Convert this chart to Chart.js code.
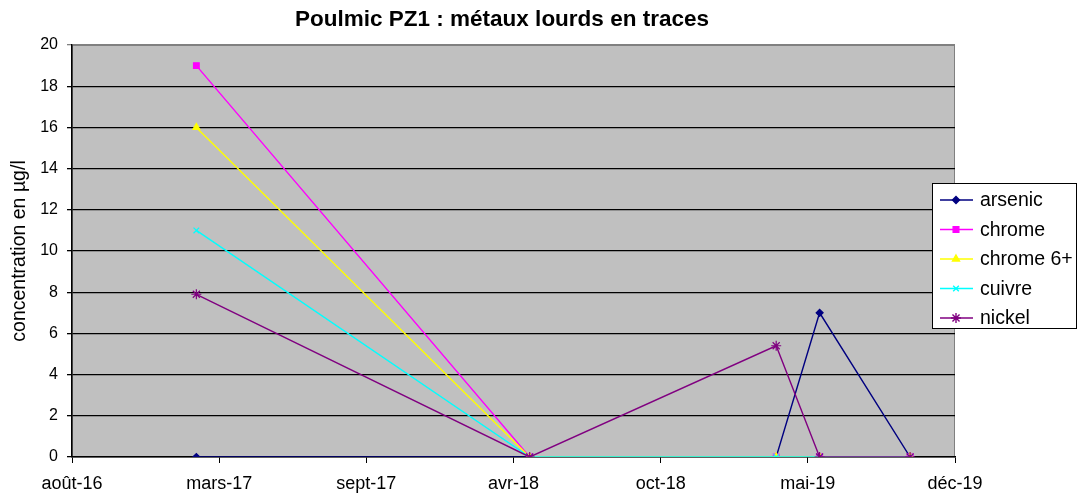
<!DOCTYPE html>
<html>
<head>
<meta charset="utf-8">
<script src="https://cdn.jsdelivr.net/npm/chart.js@4/dist/chart.umd.min.js"></script>
<style>
  html, body { margin: 0; padding: 0; background: #fff; }
  canvas { display: block; }
</style>
</head>
<body>
<canvas id="chart" width="1081" height="495"></canvas>
<script>
// x axis is a day count from the first tick, one tick every 200 days
const axisStart = '2016-08-20';
const tickStepDays = 200;
const xTickLabels = ['août-16', 'mars-17', 'sept-17', 'avr-18', 'oct-18', 'mai-19', 'déc-19'];
const sampleDates = ['2017-02-05', '2018-05-04', '2019-04-04', '2019-06-02', '2019-10-03'];

const seriesNames = ['arsenic', 'chrome', 'chrome 6+', 'cuivre', 'nickel'];
const arsenic = [0, 0, 0, 7, 0];
const chrome = [19, 0, 0, 0, 0];
const chrome6 = [16, 0, 0, 0, 0];
const cuivre = [11, 0, 0, 0, 0];
const nickel = [7.9, 0, 5.4, 0, 0];

const yMax = 20;
const yStep = 2;

const colors = ['#000080', '#FF00FF', '#FFFF00', '#00FFFF', '#800080'];
const markers = ['rectRot', 'rect', 'triangle', 'crossRot', 'star'];
const markerSize = [3.5, 4, 4, 4, 5];

const dayOffset = d => (Date.parse(d) - Date.parse(axisStart)) / 86400000;
const xs = sampleDates.map(dayOffset);

const datasets = [arsenic, chrome, chrome6, cuivre, nickel].map((vals, i) => ({
    label: seriesNames[i],
    data: vals.map((v, j) => ({ x: xs[j], y: v })),
    borderColor: colors[i],
    backgroundColor: colors[i],
    borderWidth: 1.4,
    pointStyle: markers[i],
    pointRadius: markerSize[i],
    pointBorderWidth: 1.2,
    order: seriesNames.length - i
}));

const plotBackground = {
    id: 'plotBackground',
    beforeDraw(chart) {
        const { ctx, chartArea: a } = chart;
        ctx.save();
        ctx.fillStyle = '#C0C0C0';
        ctx.fillRect(a.left, a.top, a.right - a.left, a.bottom - a.top);
        ctx.strokeStyle = '#808080';
        ctx.lineWidth = 1;
        ctx.strokeRect(a.left + 0.5, a.top + 0.5, a.right - a.left - 1, a.bottom - a.top - 1);
        ctx.restore();
    }
};

const titleAndLegend = {
    id: 'titleAndLegend',
    afterDraw(chart) {
        const ctx = chart.ctx;
        ctx.save();
        ctx.fillStyle = '#000';
        ctx.font = 'bold 22.5px "Liberation Sans", Arial, sans-serif';
        ctx.textAlign = 'center';
        ctx.textBaseline = 'middle';
        ctx.fillText('Poulmic PZ1 : métaux lourds en traces', 502, 20);

        // legend box
        ctx.fillStyle = '#fff';
        ctx.fillRect(932, 183, 144, 145);
        ctx.strokeStyle = '#000';
        ctx.lineWidth = 1;
        ctx.strokeRect(932.5, 183.5, 144, 145);

        ctx.font = '19.5px "Liberation Sans", Arial, sans-serif';
        ctx.textAlign = 'left';
        seriesNames.forEach((name, i) => {
            const y = 200 + i * 29.5;
            ctx.strokeStyle = colors[i];
            ctx.fillStyle = colors[i];
            ctx.lineWidth = 1.4;
            ctx.beginPath();
            ctx.moveTo(940, y);
            ctx.lineTo(973, y);
            ctx.stroke();
            if (Chart.helpers && Chart.helpers.drawPoint) {
                Chart.helpers.drawPoint(ctx, {
                    pointStyle: markers[i], radius: markerSize[i], rotation: 0, borderWidth: 1.2
                }, 956, y);
            }
            ctx.fillStyle = '#000';
            ctx.fillText(name, 980, y + 1);
        });
        ctx.restore();
    }
};

new Chart(document.getElementById('chart'), {
    type: 'line',
    data: { datasets },
    options: {
        responsive: false,
        animation: false,
        layout: { padding: { left: 0, right: 126, top: 45, bottom: 0 } },
        plugins: {
            legend: { display: false },
            title: { display: false },
            tooltip: { enabled: false }
        },
        scales: {
            x: {
                type: 'linear',
                min: 0,
                max: tickStepDays * (xTickLabels.length - 1),
                afterFit: s => { s.height = 38; },
                ticks: {
                    stepSize: tickStepDays,
                    autoSkip: false,
                    maxRotation: 0,
                    padding: 10,
                    color: '#000',
                    font: { family: '"Liberation Sans", Arial, sans-serif', size: 18 },
                    callback: v => xTickLabels[Math.round(v / tickStepDays)]
                },
                grid: { drawOnChartArea: false, tickLength: 6, color: '#000' },
                border: { color: '#000', width: 1.5 }
            },
            y: {
                min: 0,
                max: yMax,
                afterFit: s => { s.width = 72; },
                ticks: {
                    stepSize: yStep,
                    padding: 9,
                    color: '#000',
                    font: { family: '"Liberation Sans", Arial, sans-serif', size: 16 }
                },
                grid: {
                    tickLength: 5,
                    color: ctx => ctx.tick && ctx.tick.value === yMax ? '#808080' : '#000',
                    lineWidth: 1.3
                },
                border: { color: '#000', width: 1.5 },
                title: {
                    display: true,
                    text: 'concentration en µg/l',
                    color: '#000',
                    padding: { top: 8, bottom: 4 },
                    font: { family: '"Liberation Sans", Arial, sans-serif', size: 19.5 }
                }
            }
        }
    },
    plugins: [plotBackground, titleAndLegend]
});
</script>
</body>
</html>
